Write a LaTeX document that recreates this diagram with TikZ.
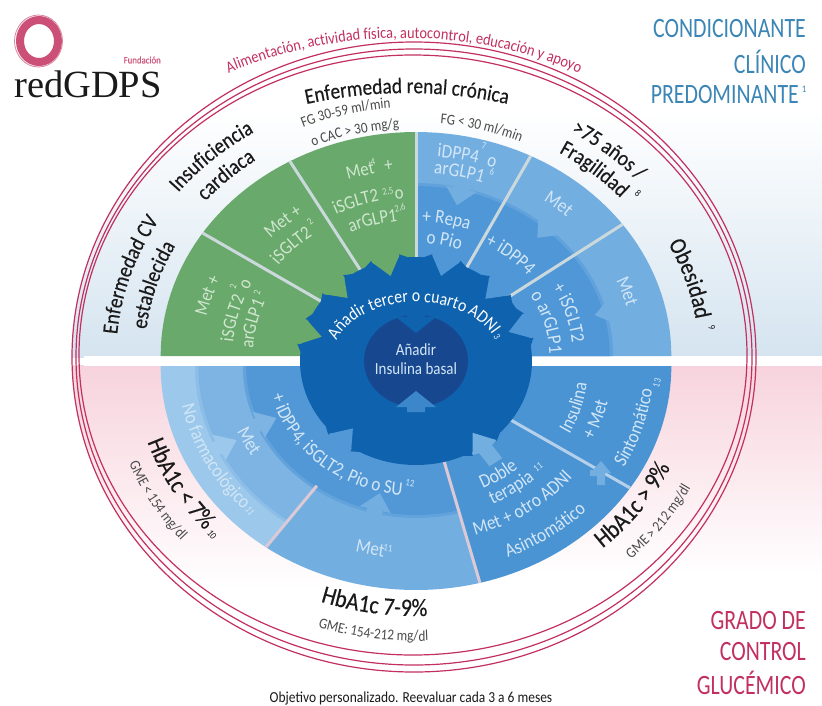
\documentclass[tikz,border=0pt]{standalone}
\usepackage{fontspec}
\setmainfont{Carlito}
\usetikzlibrary{decorations.text}
\newfontfamily\cf[FakeStretch=.88]{Carlito}
\newfontfamily\cfb[FakeStretch=.88,FakeBold=.35]{Carlito}
\newfontfamily\cft[FakeStretch=.78]{Carlito}
\newfontfamily\lrs{Liberation Serif}
\newcommand{\fsz}[1]{\fontsize{#1}{#1}\selectfont}
\definecolor{ink}{HTML}{1A1A1A}
\definecolor{subink}{HTML}{4A4A4A}
\definecolor{pk}{HTML}{C2305F}
\definecolor{tealb}{HTML}{3C86B6}
\definecolor{bgb}{HTML}{D5E4F0}
\definecolor{bgp}{HTML}{F7D3DD}
\definecolor{grn}{HTML}{69A96B}
\definecolor{lb}{HTML}{73AEE1}
\definecolor{mb}{HTML}{4F97D6}
\definecolor{lbA}{HTML}{9CC9EB}
\definecolor{lbB}{HTML}{7EB4E3}
\definecolor{lbC}{HTML}{5298D7}
\definecolor{lbD}{HTML}{4A94D3}
\definecolor{core}{HTML}{0F62AE}
\definecolor{dcore}{HTML}{17488F}
\definecolor{wg}{HTML}{CFE6CF}
\definecolor{wb}{HTML}{D2E6F6}
\definecolor{sepc}{HTML}{CBD9DC}
\definecolor{sepp}{HTML}{DCC9D6}
\definecolor{sepb}{HTML}{B5D0EA}
\newcommand{\fA}{\cfb\fsz{22}\color{ink}}
\newcommand{\fO}{\cfb\fsz{24}\color{ink}}
\newcommand{\fH}{\cfb\fsz{25}\color{ink}}
\newcommand{\fB}{\cf\fsz{15}\color{subink}}
\newcommand{\fG}{\cf\fsz{19}\color{wg}}
\newcommand{\fW}{\cf\fsz{19.5}\color{wb}}
\newcommand{\fR}{\cf\fsz{16.3}\color{pk}}
\newcommand{\fC}{\cf\fsz{18}\color{white}}
\newcommand{\spn}{60}
\newcommand{\hp}{90}
\newcommand{\arcg}[8]{%
  \pgfmathsetmacro{\ua}{#5-\spn*#6}\pgfmathsetmacro{\ub}{#5+\spn*#6}%
  \path[decorate,decoration={text along path,text align=center,text={|#7|#8}}]
    plot[domain=\ua:\ub,samples=61,variable=\uu] ({#1+#3*cos(\uu)},{#2+#4*sin(\uu)});}
\newcommand{\tT}[4]{\pgfmathsetmacro{\rxx}{1.14*#1}\pgfmathsetmacro{\spn}{\hp*53.5/#1}\arcg{416}{356}{\rxx}{#1}{#2}{1}{#3}{#4}}
\newcommand{\tB}[4]{\pgfmathsetmacro{\rxx}{1.14*#1}\pgfmathsetmacro{\spn}{\hp*53.5/#1}\arcg{416}{366}{\rxx}{#1}{#2}{-1}{#3}{#4}}
\newcommand{\wedgef}[5]{\fill[#5] (416,#1) -- plot[domain=#3:#4,samples=40,variable=\uu] ({416+1.14*#2*cos(\uu)},{#1+#2*sin(\uu)}) -- cycle;}
\newcommand{\sepl}[5]{\draw[#5,line width=3pt] ({416+1.14*#2*cos(#4)},{#1+#2*sin(#4)}) -- ({416+1.14*#3*cos(#4)},{#1+#3*sin(#4)});}
\newcommand{\notch}[2]{\begin{scope}[shift={(416,361)},xscale=1.115,rotate=-#1]
  \fill[core] (102,-20) -- (107,-13) -- (102,-11) -- cycle;
  \fill[core] (102,20) -- (107,13) -- (102,11) -- cycle;
  \fill[#2] (88,0) -- (106,-13) -- (108,-7) -- (124,-7) -- (124,7) -- (108,7) -- (106,13) -- cycle;
\end{scope}}
\newcommand{\barrow}[4]{\begin{scope}[shift={(416,#1)},xscale=1.14,rotate=-#2]
  \fill[#4] (#3,0) -- ({#3+17},-14) -- ({#3+17},-7) -- ({#3+34},-7) -- ({#3+34},7) -- ({#3+17},7) -- ({#3+17},14) -- cycle;
\end{scope}}
\tikzset{suptxt/.style={font=\cf\fsz{10},inner sep=0pt}}
\newcommand{\supn}[6]{\node[suptxt,rotate=#4,text=#5] (#1) at (#2,#3) {#6};}
\begin{document}
\begin{tikzpicture}[x=1pt,y=-1pt]
\useasboundingbox (0,0) rectangle (822,705);
\fill[white] (0,0) rectangle (822,705);
\shade[top color=white,bottom color=bgb] (416,110) rectangle (822,357);
\shade[top color=bgp,bottom color=white] (416,365) rectangle (822,575);
\begin{scope}
  \clip (414,357) ellipse[x radius=342pt,y radius=315pt];
  \shade[top color=white,bottom color=bgb] (0,110) rectangle (416,357);
  \shade[top color=bgp,bottom color=white] (0,365) rectangle (416,590);
\end{scope}
\fill[white] (84,356) rectangle (822,366);
\wedgef{356}{224}{180}{270}{grn}
\wedgef{356}{224}{270}{360}{lb}
\wedgef{356}{173}{270}{360}{lb!50!mb}
\wedgef{356}{170}{270}{360}{mb}
\wedgef{366}{224}{126}{180}{lbA}
\wedgef{366}{194}{126}{180}{lbA!50!lbB}
\wedgef{366}{191}{126}{180}{lbB}
\wedgef{366}{224}{75.5}{126}{lb}
\wedgef{366}{152}{75.5}{180}{lb!50!lbC}
\wedgef{366}{149}{75.5}{180}{lbC}
\wedgef{366}{224}{0}{75.5}{lbD}
\sepl{356}{90}{224}{213.3}{sepc}
\sepl{356}{90}{224}{240.4}{sepc}
\sepl{356}{90}{224}{270}{sepc}
\sepl{356}{90}{224}{296.7}{sepc}
\sepl{356}{90}{224}{324}{sepc}
\sepl{366}{148}{224}{126}{sepp}
\sepl{366}{90}{224}{75.5}{sepp}
\sepl{366}{90}{224}{33}{sepb}
\barrow{356}{283.4}{155}{lb}
\barrow{356}{312}{159}{lb}
\barrow{356}{345.4}{162}{lb}
\barrow{366}{154.8}{174}{lbA}
\barrow{366}{157}{133}{lbB}
\barrow{366}{104}{131}{lb}
\fill[lb] (601,461) -- (611,473) -- (605,473) -- (605,485) -- (597,485) -- (597,476) -- (590,476) -- (590,470) -- (593,470) -- cycle;
\fill[core] (416,361) ellipse[x radius=116pt,y radius=104pt];
\notch{196}{grn}
\notch{225.8}{grn}
\notch{255}{grn}
\notch{284.8}{mb}
\notch{315}{mb}
\notch{340.7}{mb}
\notch{130}{lbC}
\notch{54.7}{lb}
\fill[dcore] (416,361) ellipse[x radius=52pt,y radius=46pt];
\fill[core] (416,333) -- (396,317) -- (407,317) -- (407,312) -- (425,312) -- (425,317) -- (436,317) -- cycle;
\fill[mb!70!core] (416,391) -- (396,407) -- (407,407) -- (407,412) -- (425,412) -- (425,407) -- (436,407) -- cycle;
\renewcommand{\spn}{40}
\arcg{407}{356}{350}{263}{270}{1}{\fA}{Enfermedad renal crónica}
\tT{263}{197.7}{\fA}{Enfermedad CV}
\tT{238}{196.8}{\fA}{establecida}
\tT{265}{227.6}{\fA}{Insuficiencia}
\tT{241}{226.8}{\fA}{cardiaca}
\tT{262}{309.9}{\fA}{>75 años /}
\tT{239}{310.5}{\fA}{Fragilidad}
\supn{s8}{638}{193}{-41}{ink}{8}
\tT{248}{342.5}{\fO}{Obesidad}
\supn{s9}{712}{328}{-72}{ink}{9}
\tT{249}{255.6}{\fB}{FG 30-59 ml/min}
\tT{228}{256.3}{\fB}{o CAC > 30 mg/g}
\tT{233}{284.4}{\fB}{FG < 30 ml/min}
\renewcommand{\spn}{60}
\arcg{404}{356}{384}{318}{270}{1}{\fR}{Alimentación, actividad física, autocontrol, educación y apoyo}
\tT{188}{197.7}{\fG}{Met +}
\tT{161}{195.5}{\fG}{iSGLT2|\fG\kern8pt|o}
\supn{g1}{233}{286}{75}{wg}{2}
\tT{143}{192}{\fG}{arGLP1}
\supn{g2}{257}{293}{76}{wg}{2}
\tT{173}{228}{\fG}{Met +}
\tT{151}{224}{\fG}{iSGLT2}
\supn{g3}{310}{222}{44}{wg}{2}
\tT{186}{257.3}{\fG}{Met|\fG\kern10pt|+}
\supn{g4}{373}{162}{12}{wg}{4}
\tT{158}{254.5}{\fG}{iSGLT2|\fG\kern16pt|o}
\supn{g5}{388}{192}{14}{wg}{2,5}
\tT{136}{253.5}{\fG}{arGLP1}
\supn{g6}{400}{208}{14}{wg}{2,6}
\tT{200}{283}{\fW}{iDPP4|\fW\kern9pt|o}
\supn{b1}{484}{146}{-13}{wb}{7}
\tT{183}{282}{\fW}{arGLP1}
\supn{b2}{492}{172}{-14}{wb}{6}
\tT{134}{281.7}{\fW}{+ Repa}
\tT{113}{283}{\fW}{o Pio}
\tT{191.6}{310.3}{\fW}{Met}
\tT{127}{310.8}{\fW}{+ iDPP4}
\tT{191}{341.4}{\fW}{Met}
\tT{137.5}{343}{\fW}{+ iSGLT2}
\tT{117}{344.7}{\fW}{o arGLP1}
\renewcommand{\spn}{85}
\arcg{416}{361}{85}{59}{267}{1}{\fC}{Añadir tercer o cuarto ADNI}
\supn{b3}{497}{337}{-60}{wb}{3}
\node[font=\cf\fsz{17},text=wb,align=center] (ins) at (416,359) {Añadir\\[2pt]Insulina basal};
\tB{209}{153}{\fW}{No farmacológico}
\supn{b4}{250}{511}{-55}{wb}{11}
\tB{170}{153.4}{\fW}{Met}
\renewcommand{\hp}{140}
\tB{130}{132.5}{\fW}{+ iDPP4, iSGLT2, Pio o SU}
\renewcommand{\hp}{90}
\supn{b5}{410}{483}{-8}{wb}{12}
\tB{193}{102.5}{\fW}{Met}
\supn{b6}{388}{548}{-8}{wb}{11}
\tB{136}{55.5}{\fW}{Doble}
\tB{154}{55}{\fW}{terapia}
\supn{b7}{538}{467}{37}{wb}{11}
\tB{177}{55.6}{\fW}{Met + otro ADNI}
\tB{208}{55.2}{\fW}{Asintomático}
\tB{151}{16.2}{\fW}{Insulina}
\tB{172}{18.3}{\fW}{+ Met}
\tB{208.5}{17.5}{\fW}{Sintomático}
\supn{b8}{657}{383}{75}{wb}{13}
\begingroup\catcode`\%=12 \relax
\tB{247.5}{150.5}{\fH}{HbA1c < 7%}
\tB{250}{98.7}{\fH}{HbA1c 7-9%}
\tB{245}{36}{\fH}{HbA1c > 9%}
\endgroup
\supn{s10}{212}{535}{-52}{ink}{10}
\tB{270}{149.5}{\fB}{GME < 154 mg/dl}
\tB{275}{98}{\fB}{GME: 154-212 mg/dl}
\tB{270}{36}{\fB}{GME > 212 mg/dl}
\draw[pk,line width=1.2pt] (414,357) ellipse[x radius=342pt,y radius=315pt];
\draw[pk,line width=1.2pt] (414,357) ellipse[x radius=338pt,y radius=308pt];
\draw[pk,line width=1.2pt] (413,355) ellipse[x radius=334pt,y radius=300pt];
\node[font=\cft\fsz{28},text=tealb,anchor=east,inner sep=0pt] (c1) at (806,29) {CONDICIONANTE};
\node[font=\cft\fsz{28},text=tealb,anchor=east,inner sep=0pt] (c2) at (806,62) {CLÍNICO};
\node[font=\cft\fsz{28},text=tealb,anchor=east,inner sep=0pt] (c3) at (799,95) {PREDOMINANTE};
\supn{c4}{804}{89}{0}{tealb}{1}
\node[font=\cft\fsz{28},text=pk,anchor=east,inner sep=0pt] (g1t) at (806,620) {GRADO DE};
\node[font=\cft\fsz{28},text=pk,anchor=east,inner sep=0pt] (g2t) at (806,651) {CONTROL};
\node[font=\cft\fsz{28},text=pk,anchor=east,inner sep=0pt] (g3t) at (806,683) {GLUCÉMICO};
\node[font=\cf\fsz{15.3},text=ink] (obj) at (411,698) {Objetivo personalizado. Reevaluar cada 3 a 6 meses};
\draw[pk!85,line width=8pt] (39,41) ellipse[x radius=19pt,y radius=21pt];
\draw[pk!60,line width=.8pt] (38.5,41) ellipse[x radius=24pt,y radius=26pt];
\node[font=\lrs\fsz{38.5},text=ink,anchor=base west,inner sep=0pt] (logo) at (14,97) {redGDPS};
\node[font=\cfb\fsz{10},text=pk!80,anchor=east,inner sep=0pt] (fund) at (161,60) {Fundación};
\end{tikzpicture}
\end{document}
